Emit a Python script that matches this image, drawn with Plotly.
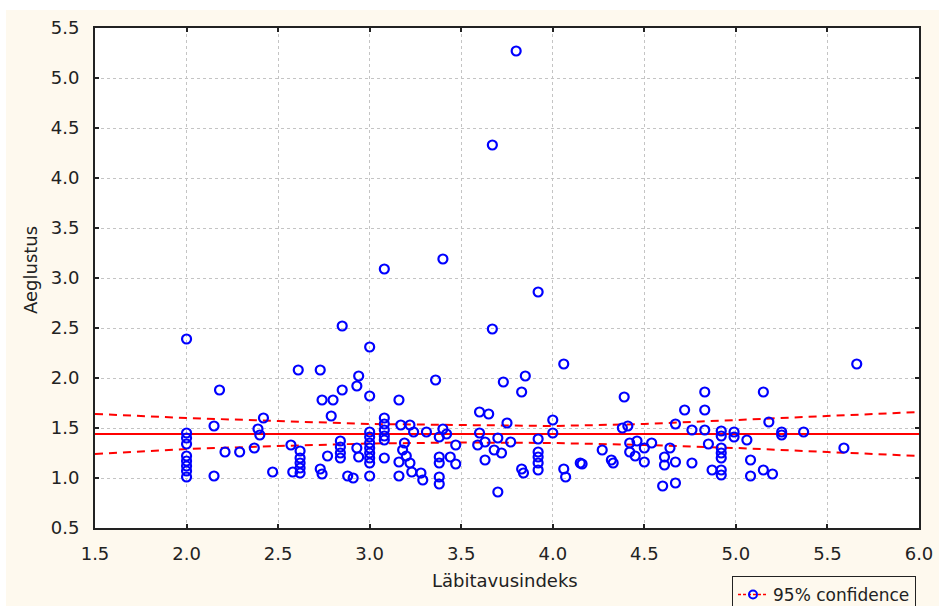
import plotly.graph_objects as go

# ---- data ----
x_vals = [
    2.00, 2.61, 2.73, 2.18, 2.85, 2.74, 2.80, 2.79, 2.42, 2.15, 2.39, 2.40,
    2.00, 2.00, 2.00, 2.00, 2.00, 2.00, 2.00, 2.00,
    2.21, 2.29, 2.37, 2.15, 2.47, 2.58, 2.57,
    2.62, 2.62, 2.62, 2.62, 2.62,
    2.77, 2.73, 2.74, 2.84, 2.84, 2.84, 2.84, 2.88,
    3.00, 2.94, 2.93, 3.36, 3.73, 3.85, 3.83, 3.00, 3.16, 3.60, 3.65, 3.08,
    3.08, 3.08, 3.08, 3.08,
    3.00, 3.00, 3.00, 3.00, 3.00, 3.00, 3.00, 3.00,
    3.17, 3.22, 3.24, 3.31, 3.40, 3.42, 3.38, 3.75, 3.60, 3.70, 3.77, 3.63,
    3.59, 3.68, 3.72, 3.47, 3.19, 3.18, 3.20, 3.16, 3.22, 3.23, 3.28, 3.29,
    3.16, 3.08, 2.93, 2.94, 2.91,
    3.38, 3.38, 3.38, 3.38, 3.44, 3.47, 3.63, 3.70, 3.83, 3.84,
    3.92, 3.92, 3.92, 3.92, 3.92,
    4.06, 4.00, 4.00, 4.06, 4.07, 4.15, 4.16, 4.27, 4.32, 4.33, 4.39, 4.38,
    4.41, 4.42, 4.46, 4.42, 4.45, 4.50, 4.50, 4.54, 4.60, 4.67, 4.61, 4.61,
    4.67, 4.64, 4.67, 4.72, 4.76, 4.76, 4.83, 4.83, 4.83, 4.85,
    4.92, 4.92, 4.92, 4.92, 4.92, 4.92, 4.92, 4.87,
    5.66, 5.15, 5.18, 5.25, 5.25, 5.37, 4.99, 4.99, 5.06, 5.59, 5.08, 5.08,
    5.15, 5.20,
    3.80, 3.67, 3.08, 3.40, 3.92, 2.85, 3.67,
]
y_vals = [
    2.39, 2.08, 2.08, 1.88, 1.88, 1.78, 1.78, 1.62, 1.60, 1.52, 1.49, 1.43,
    1.45, 1.40, 1.34, 1.22, 1.17, 1.12, 1.07, 1.01,
    1.26, 1.26, 1.30, 1.02, 1.06, 1.06, 1.33,
    1.27, 1.20, 1.15, 1.10, 1.05,
    1.22, 1.09, 1.04, 1.37, 1.31, 1.25, 1.20, 1.02,
    2.31, 2.02, 1.92, 1.98, 1.96, 2.02, 1.86, 1.82, 1.78, 1.66, 1.64, 1.60,
    1.54, 1.48, 1.42, 1.38,
    1.46, 1.41, 1.35, 1.30, 1.25, 1.20, 1.15, 1.02,
    1.53, 1.53, 1.46, 1.46, 1.49, 1.44, 1.41, 1.55, 1.45, 1.40, 1.36, 1.36,
    1.33, 1.28, 1.25, 1.33, 1.35, 1.28, 1.22, 1.16, 1.15, 1.06, 1.05, 0.98,
    1.02, 1.20, 1.30, 1.21, 1.00,
    1.21, 1.15, 1.01, 0.94, 1.21, 1.14, 1.18, 0.86, 1.09, 1.05,
    1.39, 1.26, 1.21, 1.15, 1.08,
    2.14, 1.58, 1.45, 1.09, 1.01, 1.15, 1.14, 1.28, 1.18, 1.15, 1.81, 1.50,
    1.52, 1.35, 1.37, 1.26, 1.22, 1.30, 1.16, 1.35, 0.92, 0.95, 1.21, 1.13,
    1.16, 1.30, 1.54, 1.68, 1.15, 1.48, 1.86, 1.68, 1.48, 1.34,
    1.47, 1.42, 1.30, 1.25, 1.20, 1.08, 1.03, 1.08,
    2.14, 1.86, 1.56, 1.46, 1.43, 1.46, 1.46, 1.41, 1.38, 1.30, 1.18, 1.02,
    1.08, 1.04,
    5.27, 4.33, 3.09, 3.19, 2.86, 2.52, 2.49,
]

fit_x = [1.5, 6.0]
fit_y = [1.44, 1.44]

ci_x = [1.5, 2.0, 2.5, 3.0, 3.5, 4.0, 4.5, 5.0, 5.5, 6.0]
ci_upper = [1.64, 1.60, 1.57, 1.54, 1.53, 1.52, 1.54, 1.58, 1.62, 1.66]
ci_lower = [1.24, 1.29, 1.32, 1.345, 1.355, 1.35, 1.33, 1.30, 1.26, 1.22]

x_ticks = [1.5, 2.0, 2.5, 3.0, 3.5, 4.0, 4.5, 5.0, 5.5, 6.0]
y_ticks = [0.5, 1.0, 1.5, 2.0, 2.5, 3.0, 3.5, 4.0, 4.5, 5.0, 5.5]

x_title = "Läbitavusindeks"
y_title = "Aeglustus"
legend_label = "95% confidence"

# ---- styling ----
FONT = "DejaVu Sans"
CREAM = "#FEF9EE"
BLUE = "#0000FF"
RED = "#FF0000"
TXT = "#222222"

fig = go.Figure()

fig.add_trace(go.Scatter(
    x=ci_x, y=ci_upper, mode="lines",
    line=dict(color=RED, width=2, dash="8px,6px"),
    showlegend=False, hoverinfo="skip"))
fig.add_trace(go.Scatter(
    x=ci_x, y=ci_lower, mode="lines",
    line=dict(color=RED, width=2, dash="8px,6px"),
    showlegend=False, hoverinfo="skip"))
fig.add_trace(go.Scatter(
    x=fit_x, y=fit_y, mode="lines",
    line=dict(color=RED, width=2),
    showlegend=False))
fig.add_trace(go.Scatter(
    x=x_vals, y=y_vals, mode="markers",
    marker=dict(symbol="circle-open", size=9, color=BLUE, line=dict(width=2.2, color=BLUE)),
    showlegend=False))
# legend-only entry
fig.add_trace(go.Scatter(
    x=[None], y=[None], mode="lines+markers", name=legend_label,
    line=dict(color=RED, width=1.5, dash="3px,2px"),
    marker=dict(symbol="circle-open", size=8, color=BLUE, line=dict(width=2, color=BLUE)),
    showlegend=True))

axis_common = dict(
    showline=True, linecolor="#222222", linewidth=2, mirror="ticks",
    ticks="inside", ticklen=4, tickwidth=2, tickcolor="#222222",
    showgrid=True, gridcolor="#c4c4c4", gridwidth=1, griddash="dot",
    zeroline=False, tickformat=".1f", automargin=False,
    tickfont=dict(family=FONT, size=18, color=TXT),
)

fig.update_xaxes(range=[1.5, 6.0], tickvals=x_ticks, ticklabelstandoff=8, **axis_common)
fig.update_yaxes(range=[0.5, 5.5], tickvals=y_ticks, ticklabelstandoff=10, **axis_common)

L, R, T, B = 95, 20, 28, 78
W, H = 939, 606
pw, ph = W - L - R, H - T - B

def px(xp):
    return (xp - L) / pw

def py(yp):
    return (H - B - yp) / ph

fig.update_layout(
    width=W, height=H,
    margin=dict(l=L, r=R, t=T, b=B, pad=0, autoexpand=False),
    paper_bgcolor=CREAM, plot_bgcolor="white",
    font=dict(family=FONT, size=18, color=TXT),
    showlegend=True,
    legend=dict(
        xref="container", yref="container",
        x=732 / W, y=1 - 576 / H, xanchor="left", yanchor="top",
        bordercolor="#222222", borderwidth=1, bgcolor=CREAM,
        font=dict(family=FONT, size=17, color=TXT),
    ),
    annotations=[
        dict(text=x_title, xref="paper", yref="paper", x=px(505), y=py(580),
             xanchor="center", yanchor="middle", showarrow=False,
             font=dict(family=FONT, size=18, color=TXT)),
        dict(text=y_title, xref="paper", yref="paper", x=px(30), y=py(270),
             xanchor="center", yanchor="middle", showarrow=False, textangle=-90,
             font=dict(family=FONT, size=18, color=TXT)),
    ],
    shapes=[
        dict(type="rect", xref="paper", yref="paper", x0=px(0), x1=px(W), y0=py(10), y1=py(0),
             fillcolor="white", line=dict(width=0), layer="below"),
        dict(type="rect", xref="paper", yref="paper", x0=px(0), x1=px(6), y0=py(H), y1=py(0),
             fillcolor="white", line=dict(width=0), layer="below"),
    ],
)

fig.write_html(
    "out.html",
    config={"displayModeBar": False},
    post_script="document.body.style.margin='0';document.body.style.overflow='hidden';",
)
